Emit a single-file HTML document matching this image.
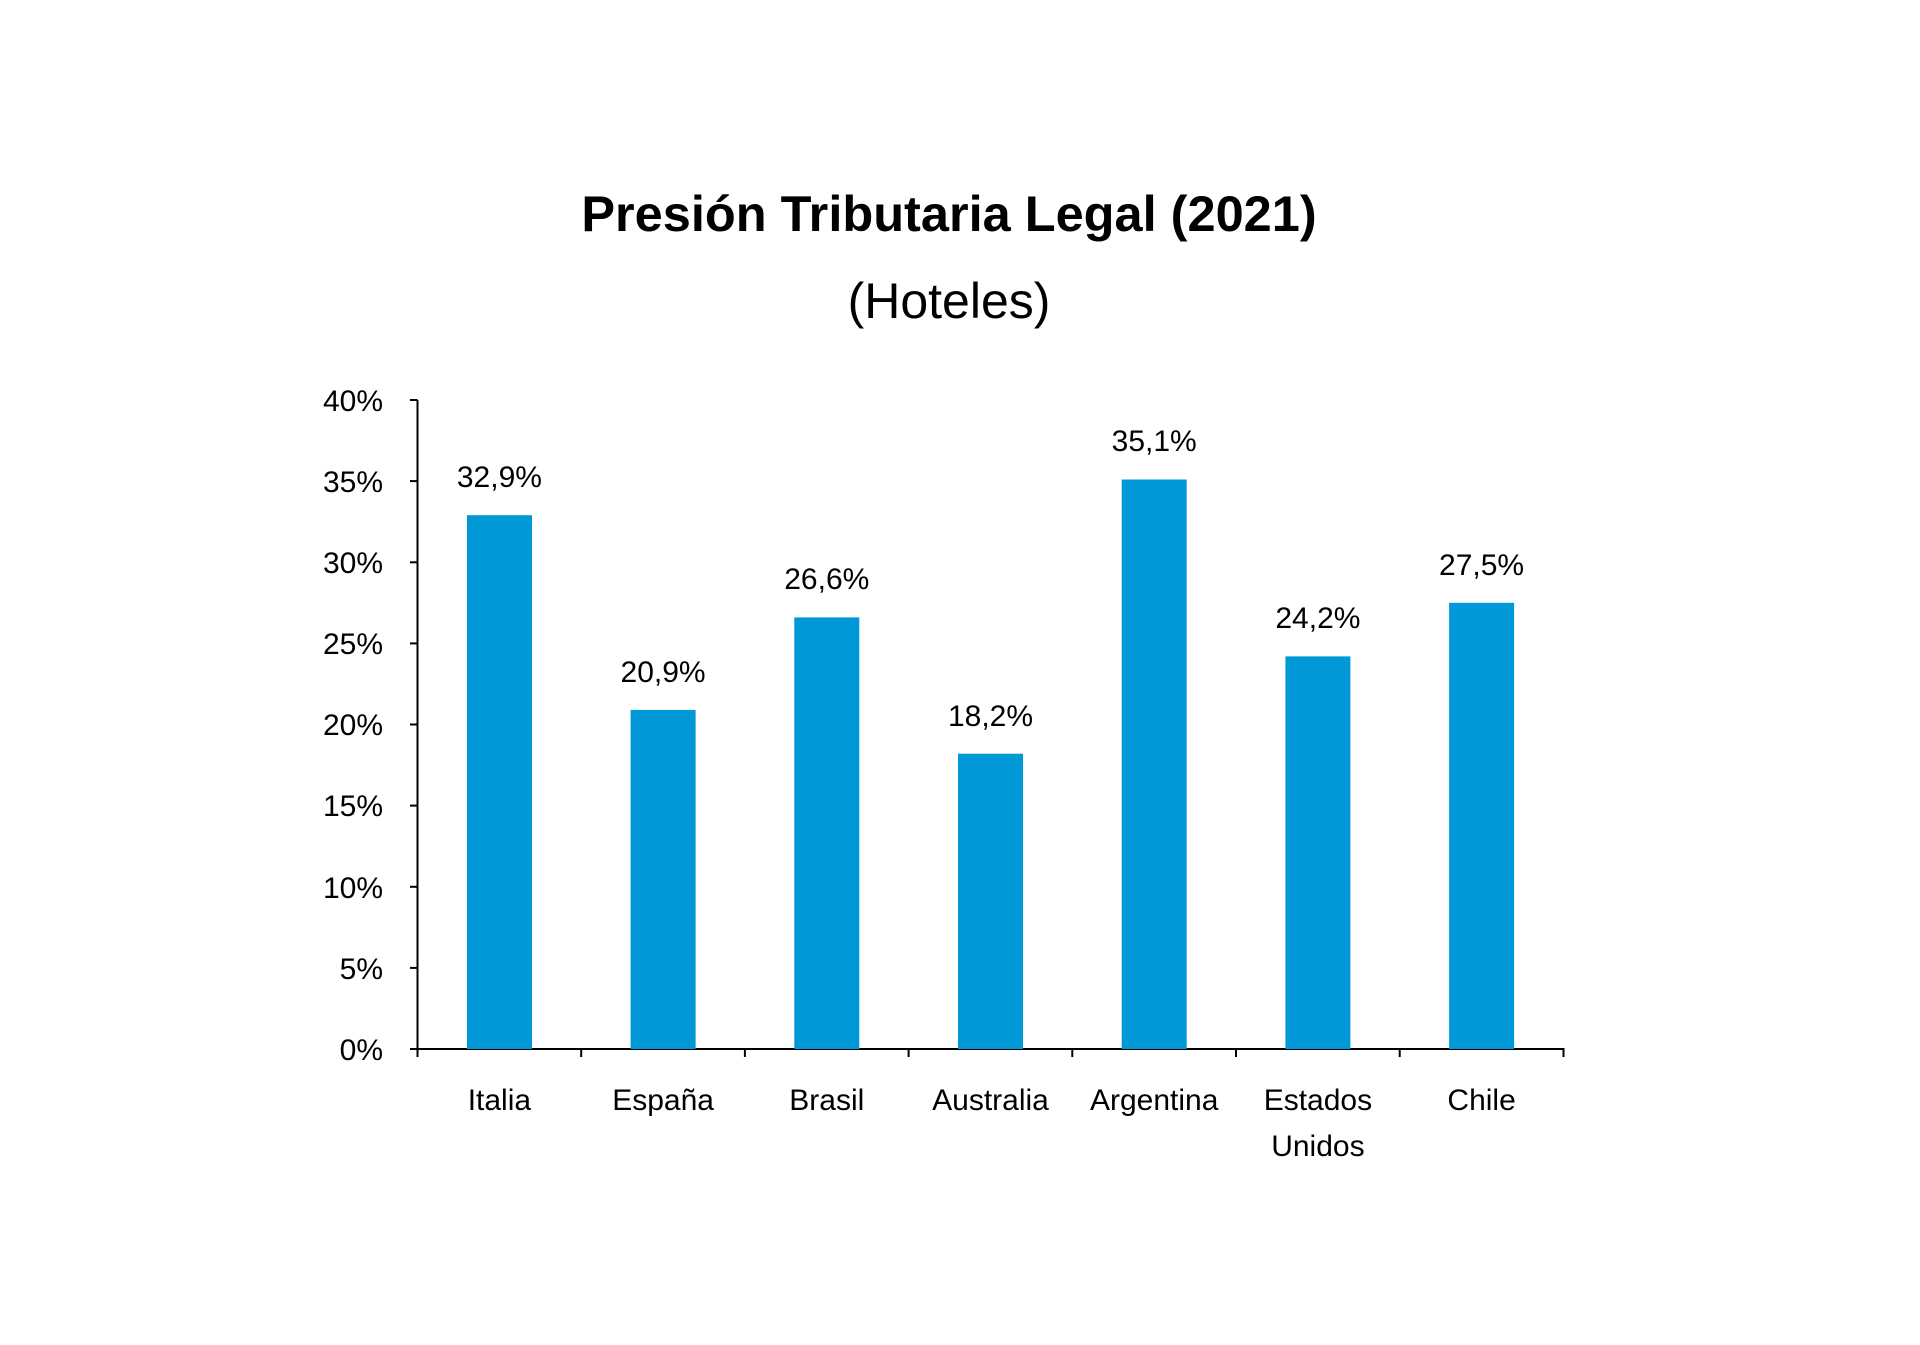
<!DOCTYPE html>
<html><head><meta charset="utf-8"><style>
html,body{margin:0;padding:0;background:#fff;}
</style></head><body>
<svg width="1920" height="1340" xmlns="http://www.w3.org/2000/svg" font-family="Liberation Sans, sans-serif">
<rect width="1920" height="1340" fill="#fff"/>
<text x="949" y="231" font-size="50.5" font-weight="bold" text-anchor="middle" fill="#000">Presión Tributaria Legal (2021)</text>
<text x="949" y="318" font-size="50" text-anchor="middle" fill="#000">(Hoteles)</text>
<g stroke="#000" stroke-width="2">
<line x1="417.5" y1="400" x2="417.5" y2="1049"/>
<line x1="416.5" y1="1049" x2="1564.5" y2="1049"/>
<line x1="410" y1="400" x2="417.5" y2="400"/>
<line x1="410" y1="481.1" x2="417.5" y2="481.1"/>
<line x1="410" y1="562.3" x2="417.5" y2="562.3"/>
<line x1="410" y1="643.4" x2="417.5" y2="643.4"/>
<line x1="410" y1="724.5" x2="417.5" y2="724.5"/>
<line x1="410" y1="805.6" x2="417.5" y2="805.6"/>
<line x1="410" y1="886.8" x2="417.5" y2="886.8"/>
<line x1="410" y1="967.9" x2="417.5" y2="967.9"/>
<line x1="410" y1="1049" x2="417.5" y2="1049"/>
<line x1="417.5" y1="1049" x2="417.5" y2="1057"/>
<line x1="581.2" y1="1049" x2="581.2" y2="1057"/>
<line x1="744.9" y1="1049" x2="744.9" y2="1057"/>
<line x1="908.6" y1="1049" x2="908.6" y2="1057"/>
<line x1="1072.3" y1="1049" x2="1072.3" y2="1057"/>
<line x1="1236" y1="1049" x2="1236" y2="1057"/>
<line x1="1399.7" y1="1049" x2="1399.7" y2="1057"/>
<line x1="1563.5" y1="1049" x2="1563.5" y2="1057"/>
</g>
<g font-size="30" text-anchor="end" fill="#000">
<text x="383" y="411">40%</text>
<text x="383" y="492">35%</text>
<text x="383" y="573">30%</text>
<text x="383" y="654">25%</text>
<text x="383" y="735">20%</text>
<text x="383" y="816">15%</text>
<text x="383" y="898">10%</text>
<text x="383" y="979">5%</text>
<text x="383" y="1060">0%</text>
</g>
<g fill="#0098d6">
<rect x="467" y="515.2" width="65" height="533.8"/>
<rect x="630.6" y="709.9" width="65" height="339.1"/>
<rect x="794.3" y="617.4" width="65" height="431.6"/>
<rect x="958" y="753.7" width="65" height="295.3"/>
<rect x="1121.7" y="479.5" width="65" height="569.5"/>
<rect x="1285.4" y="656.4" width="65" height="392.6"/>
<rect x="1449.1" y="602.8" width="65" height="446.2"/>
</g>
<g font-size="30" text-anchor="middle" fill="#000">
<text x="499.4" y="487">32,9%</text>
<text x="663.1" y="682">20,9%</text>
<text x="826.8" y="589">26,6%</text>
<text x="990.5" y="726">18,2%</text>
<text x="1154.2" y="451">35,1%</text>
<text x="1317.9" y="628">24,2%</text>
<text x="1481.6" y="575">27,5%</text>
<text x="499.4" y="1110">Italia</text>
<text x="663.1" y="1110">España</text>
<text x="826.8" y="1110">Brasil</text>
<text x="990.5" y="1110">Australia</text>
<text x="1154.2" y="1110">Argentina</text>
<text x="1317.9" y="1110">Estados</text>
<text x="1317.9" y="1156">Unidos</text>
<text x="1481.6" y="1110">Chile</text>
</g>
</svg>
</body></html>
